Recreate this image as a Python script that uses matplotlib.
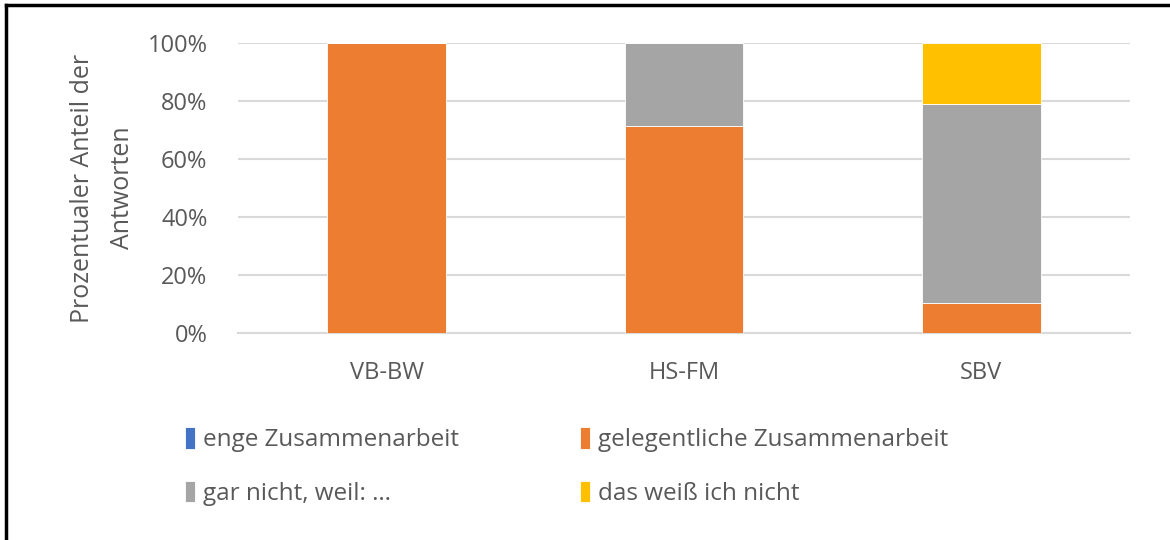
import matplotlib
matplotlib.use("Agg")
import matplotlib.pyplot as plt
from matplotlib.lines import Line2D
from matplotlib.ticker import PercentFormatter

plt.rcParams['font.family'] = ['Open Sans', 'DejaVu Sans']

# Daten
kategorien = ["VB-BW", "HS-FM", "SBV"]
enge = [0.0, 0.0, 0.0]
gelegentlich = [100.0, 71.4, 10.5]
gar_nicht = [0.0, 28.6, 68.4]
weiss_nicht = [0.0, 0.0, 21.1]

serien = [
    ("enge Zusammenarbeit", enge, "#4472C4"),
    ("gelegentliche Zusammenarbeit", gelegentlich, "#ED7D31"),
    ("gar nicht, weil: …", gar_nicht, "#A5A5A5"),
    ("das weiß ich nicht", weiss_nicht, "#FFC000"),
]

textfarbe = "#595959"

fig = plt.figure(figsize=(11.7, 5.4), dpi=100)
ax = fig.add_axes([0.2034, 0.3833, 0.7624, 0.5371])

x = list(range(len(kategorien)))
unten = [0.0] * len(kategorien)
for name, werte, farbe in serien:
    ax.bar(x, werte, width=0.4, bottom=unten, color=farbe, label=name,
           edgecolor="white", linewidth=0.6, zorder=3)
    unten = [u + w for u, w in zip(unten, werte)]

ax.set_xlim(-0.5, 2.5)
ax.set_ylim(0, 100)
ax.set_yticks([0, 20, 40, 60, 80, 100])
ax.yaxis.set_major_formatter(PercentFormatter(100, decimals=0))
ax.set_xticks(x)
ax.set_xticklabels(kategorien)
ax.grid(axis="y", color="#D9D9D9", linewidth=1.5, zorder=0)
for s in ax.spines.values():
    s.set_visible(False)
ax.spines["bottom"].set_visible(True)
ax.spines["bottom"].set_color("#D9D9D9")
ax.spines["bottom"].set_linewidth(1.5)
ax.tick_params(axis="both", length=0, labelsize=17, labelcolor=textfarbe)
ax.tick_params(axis="y", pad=22)
ax.tick_params(axis="x", pad=20)

ax.set_ylabel("Prozentualer Anteil der\nAntworten", fontsize=18, color=textfarbe,
              linespacing=1.75)
ax.yaxis.set_label_coords(-0.116, 0.5)

# Legende zeilenweise wie im Original
handles, labels = ax.get_legend_handles_labels()
reihenfolge = [0, 2, 1, 3]
leg = fig.legend([handles[i] for i in reihenfolge], [labels[i] for i in reihenfolge],
                 loc="upper left", bbox_to_anchor=(0.150, 0.227), ncol=2,
                 frameon=False, fontsize=17.5, handlelength=0.42, handleheight=1.0,
                 handletextpad=0.3, columnspacing=5.0, labelspacing=1.16,
                 borderaxespad=0)
for t in leg.get_texts():
    t.set_color(textfarbe)

# Rahmen oben und links
fig.add_artist(Line2D([0.0048, 1.0], [0.9907, 0.9907], color="black", linewidth=2.5,
                      transform=fig.transFigure))
fig.add_artist(Line2D([0.0055, 0.0055], [0.0, 0.9907], color="black", linewidth=2.5,
                      transform=fig.transFigure))

fig.savefig("out.png", dpi=100)
